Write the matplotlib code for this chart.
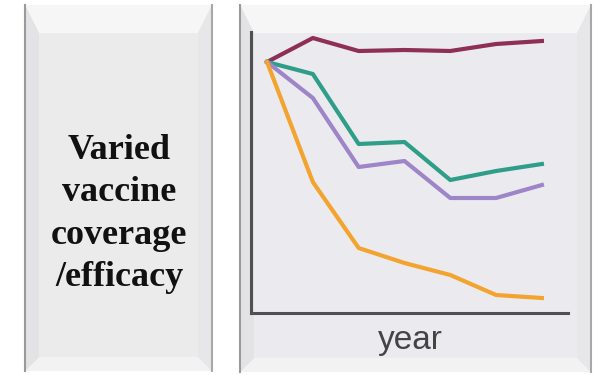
import matplotlib
matplotlib.use("Agg")
from matplotlib import pyplot as plt
from matplotlib.patches import Polygon, Rectangle

# data (height above the x axis, arbitrary units)
years = [0, 1, 2, 3, 4, 5, 6]
red_series = [251, 275, 262, 263, 262, 269, 272]
green_series = [251, 239, 169, 171, 133, 142, 149]
purple_series = [251, 215, 146, 152, 115, 115, 128]
orange_series = [251, 131, 65, 50, 38, 18, 15]

series = [
    (red_series, "#8e2f57"),
    (green_series, "#2f9e88"),
    (purple_series, "#9d85c8"),
    (orange_series, "#f2a330"),
]

label_text = "Varied\nvaccine\ncoverage\n/efficacy"
x_label = "year"


def draw_panel(ax, x0, x1, y0, y1, face, bevel=14):
    """Beveled gray box drawn in pixel coordinates of the background axes"""
    ax.add_patch(Rectangle((x0, y0), x1 - x0, y1 - y0, facecolor=face, edgecolor="none"))
    # top and bottom bevels are lighter, sides slightly darker
    ax.add_patch(Polygon([(x0, y0), (x1, y0), (x1 - bevel, y0 + 2 * bevel), (x0 + bevel, y0 + 2 * bevel)],
                         facecolor="#f6f6f6", edgecolor="none"))
    ax.add_patch(Polygon([(x0, y1), (x1, y1), (x1 - bevel, y1 - bevel), (x0 + bevel, y1 - bevel)],
                         facecolor="#f2f2f2", edgecolor="none"))
    ax.add_patch(Polygon([(x0, y0), (x0 + bevel, y0 + 2 * bevel), (x0 + bevel, y1 - bevel), (x0, y1)],
                         facecolor="#e3e3e5", edgecolor="none"))
    ax.add_patch(Polygon([(x1, y0), (x1 - bevel, y0 + 2 * bevel), (x1 - bevel, y1 - bevel), (x1, y1)],
                         facecolor="#e7e7e9", edgecolor="none"))
    ax.plot([x0, x0], [y0, y1], color="#9a9a9a", linewidth=1.5)
    ax.plot([x1, x1], [y0, y1], color="#a8a8a8", linewidth=1.5)


fig = plt.figure(figsize=(5.93, 3.75), dpi=100)
fig.patch.set_facecolor("white")

bg = fig.add_axes([0, 0, 1, 1])
bg.set_xlim(0, 593)
bg.set_ylim(375, 0)
bg.axis("off")

draw_panel(bg, 25, 212, 5, 371, "#ebebeb")
draw_panel(bg, 240, 591, 5, 372, "#ebebef")

bg.text(119, 214, label_text, ha="center", va="center", fontsize=26, fontweight="bold",
        family="Liberation Serif", linespacing=1.38, color="#111111")
bg.text(410, 340, x_label, ha="center", va="center", fontsize=24,
        family="Liberation Sans", color="#444444")

ax = fig.add_axes([251 / 593, 1 - 313 / 375, (568 - 251) / 593, (313 - 32) / 375])
ax.patch.set_alpha(0)
for values, color in series:
    ax.plot(years, values, color=color, linewidth=3, solid_joinstyle="round")
ax.set_xlim(-0.35, 6.57)
ax.set_ylim(0, 281)
ax.set_xticks([])
ax.set_yticks([])
for side in ["top", "right"]:
    ax.spines[side].set_visible(False)
for side in ["left", "bottom"]:
    ax.spines[side].set_color("#505050")
    ax.spines[side].set_linewidth(2.2)

fig.savefig("out.png", dpi=100)
